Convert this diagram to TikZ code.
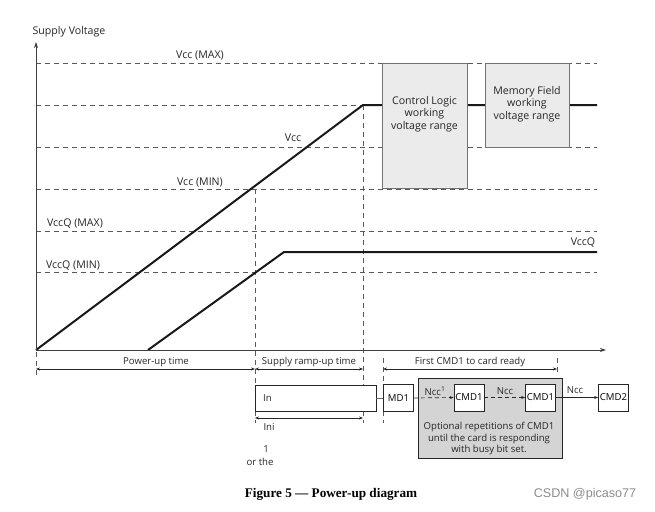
\documentclass[tikz,border=0pt]{standalone}
\usepackage{fontspec}
\setmainfont{Open Sans}
\newfontfamily\capfont{Liberation Serif}
\newfontfamily\wmfont{Liberation Sans}
\usetikzlibrary{arrows.meta}
\begin{document}
\begin{tikzpicture}[x=1pt,y=-1pt,
  big/.style={font=\fontsize{10.6}{12.5}\selectfont, inner sep=0pt, text=black!85},
  small/.style={font=\fontsize{9.6}{11.5}\selectfont, inner sep=0pt, text=black!85},
  guide/.style={draw=black!65, line width=0.7pt, dash pattern=on 5pt off 4pt},
  curve/.style={line width=2pt, draw=black!90},
  axis/.style={draw=black!75, line width=0.9pt, -{Stealth[length=6pt,width=4pt]}},
  rangebox/.style={draw=black!55, fill=black!8, line width=0.8pt, inner sep=0pt},
  cmdbox/.style={draw=black!85, fill=white, line width=0.7pt, minimum width=30pt, minimum height=27pt, inner sep=0pt, font=\fontsize{9.6}{11.5}\selectfont},
  dimarrow/.style={draw=black!85, line width=0.6pt, {Stealth[length=4pt,width=3pt]}-{Stealth[length=4pt,width=3pt]}},
  flowarrow/.style={draw=black!85, line width=0.7pt, -{Stealth[length=4pt,width=3pt]}}]
\useasboundingbox (0,0) rectangle (655,511);

% axes
\coordinate (O) at (36,350);
\coordinate (Ytop) at (36,42);
\coordinate (Xend) at (606,350);

% horizontal guide lines
\foreach \n/\yy in {a/63,b/105,c/147,d/189,e/231,f/272}{
  \coordinate (hL\n) at (36,\yy);
  \coordinate (hR\n) at (597,\yy);
  \draw[guide] (hL\n) -- (hR\n);
}

% vertical guides
\coordinate (v1t) at (255,189);
\coordinate (v1b) at (255,385);
\coordinate (v2t) at (363,105);
\coordinate (v2b) at (363,385);
\draw[guide] (v1t) -- (v1b);
\draw[guide] (v2t) -- (v2b);

% Vcc curve
\coordinate (vccK) at (363,105);
\coordinate (vccE) at (597,105);
\draw[curve] (O) -- (vccK) -- (vccE);
% VccQ curve
\coordinate (vqS) at (148,350);
\coordinate (vqK) at (284,252);
\coordinate (vqE) at (597,252);
\draw[curve] (vqS) -- (vqK) -- (vqE);

\draw[axis] (O) -- (Ytop);
\draw[axis] (O) -- (Xend);

% range boxes
\node[rangebox, minimum width=85pt, minimum height=125pt] (ctrl) at (424.5,125.5) {};
\node[big, align=center] (ctrltxt) at (424.5,114) {Control Logic\\working\\voltage range};
\node[rangebox, minimum width=84pt, minimum height=84pt] (mem) at (527,105) {};
\node[big, align=center] (memtxt) at (527,104) {Memory Field\\working\\voltage range};

% labels
\node[big] (sv) at (69,32) {Supply Voltage};
\node[big] (lmax) at (200,56) {Vcc (MAX)};
\node[big] (lmin) at (200,183) {Vcc (MIN)};
\node[big] (lvcc) at (293,138) {Vcc};
\node[big] (lqmax) at (75,224) {VccQ (MAX)};
\node[big] (lqmin) at (73,266) {VccQ (MIN)};
\node[big] (lvq) at (583,243) {VccQ};

% bottom timing
\coordinate (t0a) at (36,352);
\coordinate (t0b) at (36,376);
\draw[guide] (t0a) -- (t0b);
\coordinate (t3a) at (383,358);
\coordinate (t3b) at (383,385);
\draw[guide] (t3a) -- (t3b);
\coordinate (t4a) at (557,358);
\coordinate (t4b) at (557,373);
\draw[guide] (t4a) -- (t4b);
\coordinate (t1a) at (255,411);
\coordinate (t1b) at (255,423);
\draw[guide] (t1a) -- (t1b);
\coordinate (t2a) at (363,411);
\coordinate (t2b) at (363,423);
\draw[guide] (t2a) -- (t2b);
\coordinate (t3c) at (383,411);
\coordinate (t3d) at (383,423);
\draw[guide] (t3c) -- (t3d);

\coordinate (pa) at (36,369);
\coordinate (pb) at (255,369);
\coordinate (pc) at (363,369);
\coordinate (pd) at (383,369);
\coordinate (pe) at (557,369);
\draw[dimarrow] (pa) -- (pb);
\draw[dimarrow] (pb) -- (pc);
\draw[dimarrow] (pd) -- (pe);
\node[small] (put) at (156,362) {Power-up time};
\node[small] (srt) at (309,362) {Supply ramp-up time};
\node[small] (fct) at (470,362) {First CMD1 to card ready};

% In box
\node[draw=black!85, line width=0.7pt, minimum width=121pt, minimum height=26pt, inner sep=0pt] (inbox) at (315.5,398) {};
\node[small, anchor=west] (intxt) at (263,398) {In};
\node[cmdbox] (md1) at (398.5,398) {MD1};
\draw[draw=black!60, line width=0.7pt] (inbox.east) -- (md1.west);

% optional repetitions box
\node[draw=black!85, fill=black!17, line width=0.8pt, minimum width=144pt, minimum height=80pt, inner sep=0pt] (opt) at (490,418) {};
\node[cmdbox] (c1a) at (469,397.5) {CMD1};
\node[cmdbox] (c1b) at (540.5,397.5) {CMD1};
\node[cmdbox] (c2) at (613.5,397.5) {CMD2};
\draw[flowarrow, dash pattern=on 4pt off 3pt] (md1.east) -- (c1a.west);
\draw[flowarrow, dash pattern=on 4pt off 3pt] (c1a.east) -- (c1b.west);
\draw[flowarrow] (c1b.east) -- (c2.west);
\node[small] (n1) at (435,391) {Ncc$^{\mathrm{1}}$};
\node[small] (n2) at (505,391) {Ncc};
\node[small] (n3) at (575,390) {Ncc};
\node[small, align=center] (opttxt) at (489,438.5) {Optional repetitions of CMD1\\until the card is responding\\with busy bit set.};

% Ini
\coordinate (ia) at (255,418);
\coordinate (ib) at (363,418);
\draw[dimarrow] (ia) -- (ib);
\node[small] (ini) at (269,427) {Ini};
\node[small] (one) at (266,449) {1};
\node[small] (orthe) at (260,462) {or the};

% caption
\node[inner sep=0pt, font=\capfont\bfseries\fontsize{13.2}{15}\selectfont] (cap) at (331,494) {Figure 5 — Power-up diagram};
\node[inner sep=0pt, text=black!45, font=\wmfont\fontsize{12.6}{14}\selectfont] (wm) at (585,494) {CSDN @picaso77};
\end{tikzpicture}
\end{document}
